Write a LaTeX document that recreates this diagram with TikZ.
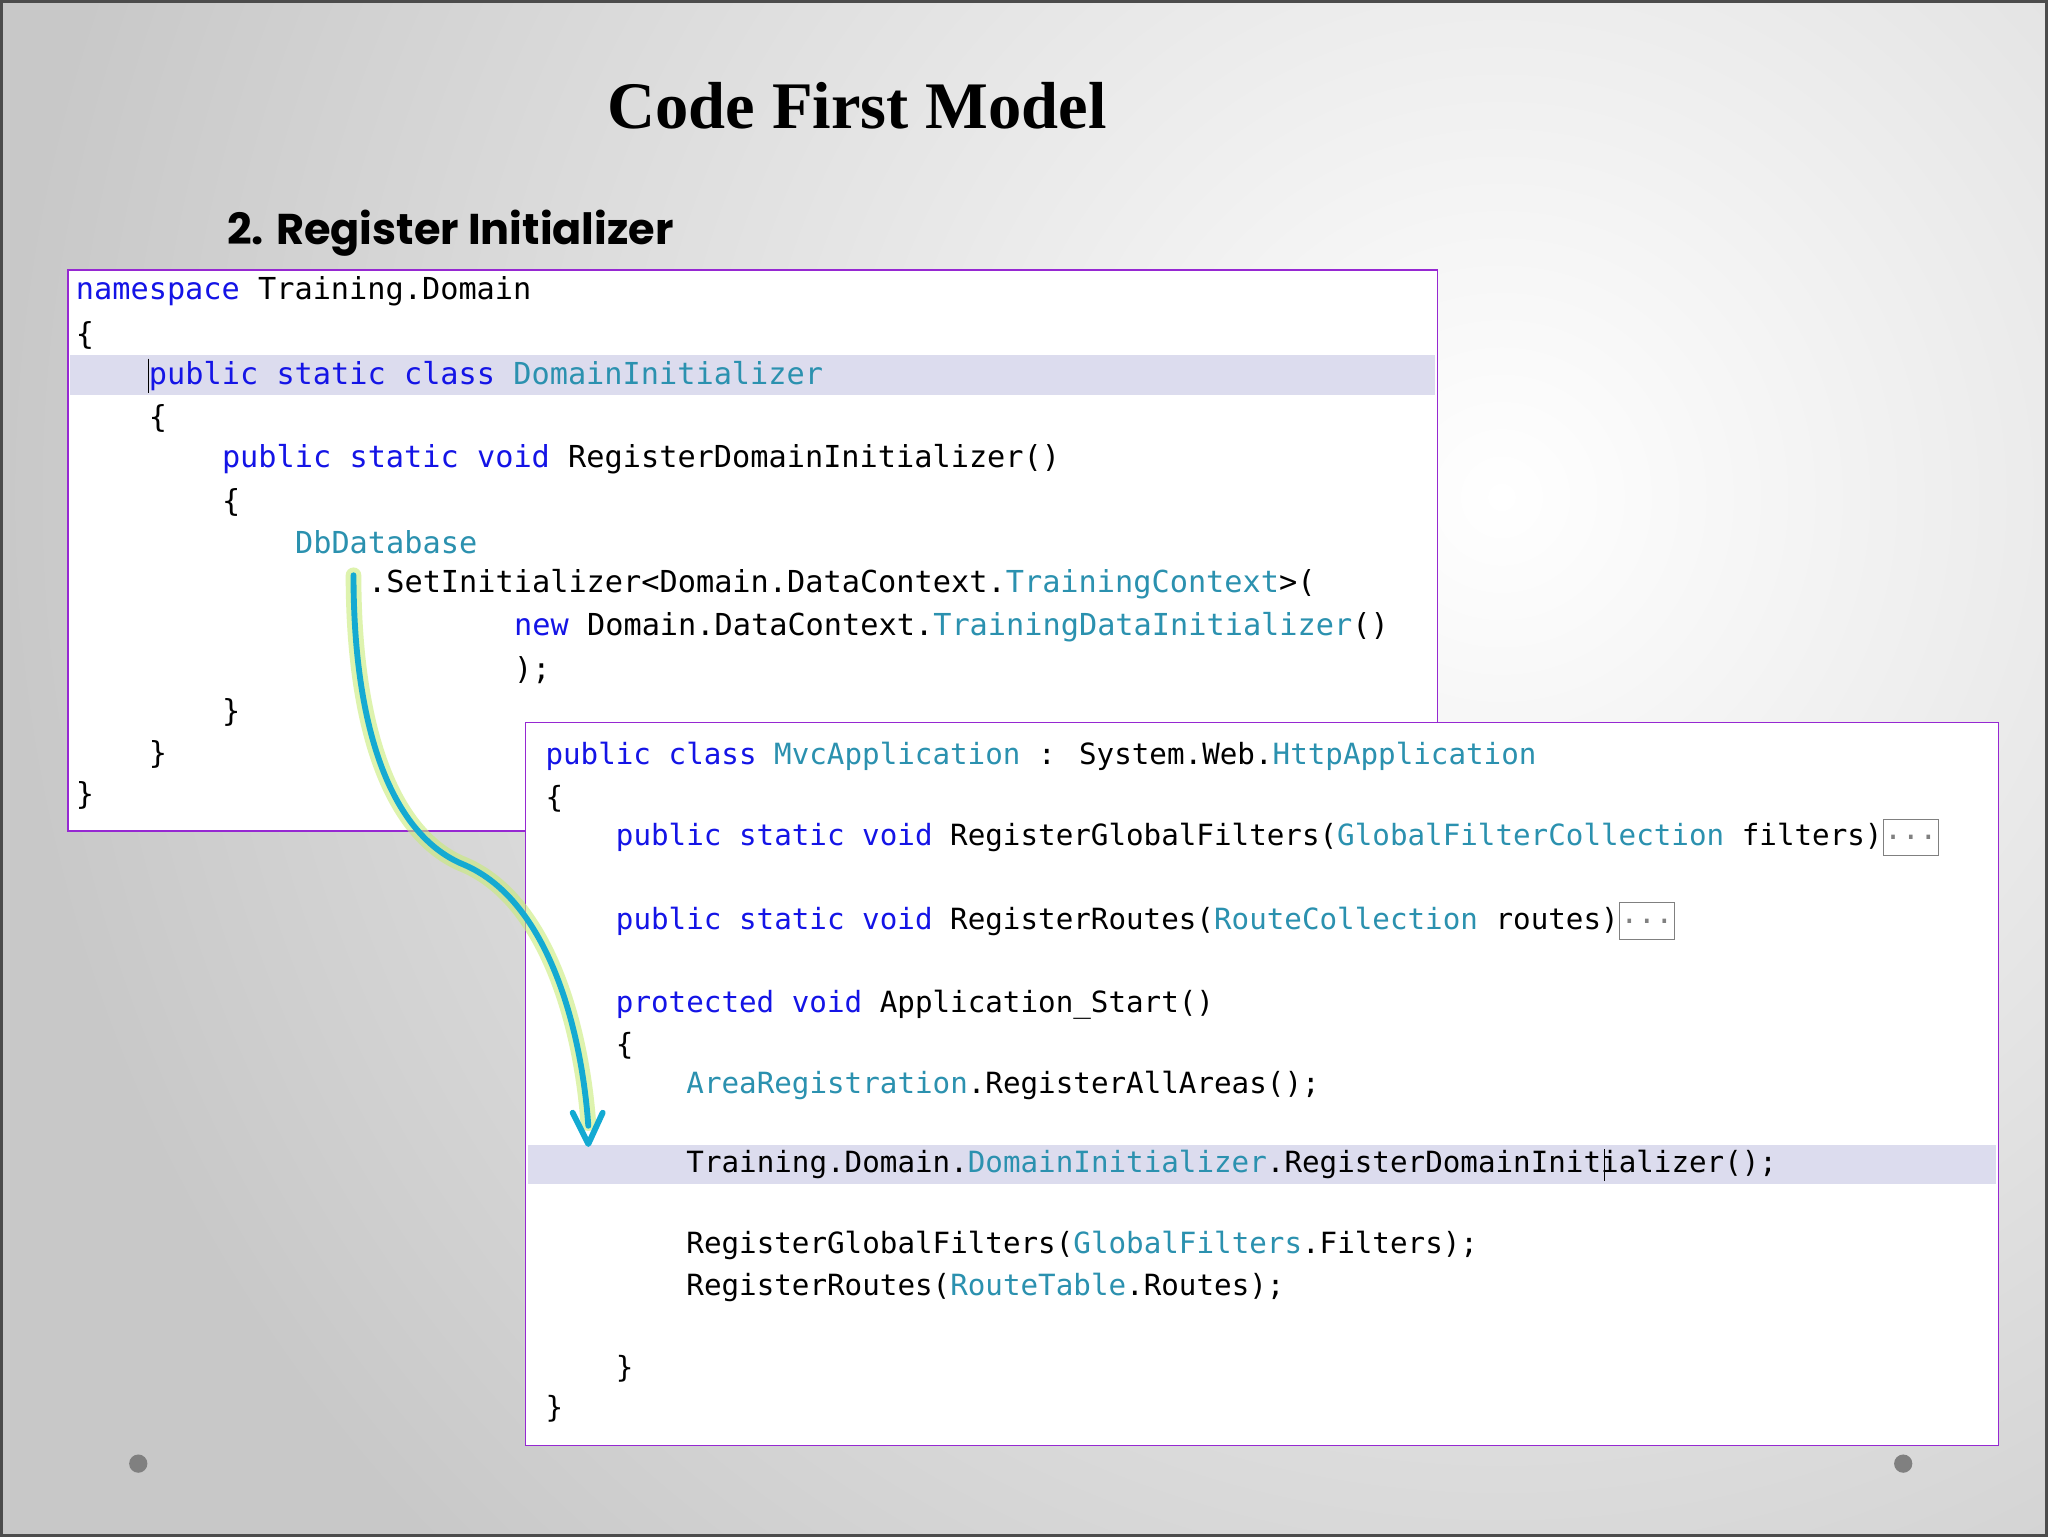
\documentclass[tikz,border=0pt]{standalone}
\usepackage{fontspec}
\newfontfamily\codef{DejaVu Sans Mono}
\newfontfamily\titlef{Liberation Serif}
\newfontfamily\subf{Poppins}
\definecolor{kwc}{RGB}{20,20,230}
\definecolor{tyc}{RGB}{43,145,175}
\definecolor{boxc}{RGB}{150,40,210}
\definecolor{hlc}{RGB}{220,220,238}
\definecolor{bgc}{RGB}{200,200,200}
\definecolor{arc}{RGB}{20,170,210}
\newcommand\kw[1]{\textcolor{kwc}{#1}}
\newcommand\ty[1]{\textcolor{tyc}{#1}}
\tikzset{x=1pt,y=-1pt,
 code/.style={anchor=west,inner sep=0pt,font=\codef\fontsize{23.2}{28}\selectfont,text=black},
 codeb/.style={code,font=\codef\fontsize{22.4}{28}\selectfont},
 panel/.style={draw=boxc,line width=1.2pt,fill=white},
 dots/.style={draw=gray,inner sep=1pt,anchor=west,font=\codef\fontsize{22.4}{28}\selectfont,text=gray,minimum height=28pt}}
\begin{document}
\begin{tikzpicture}
\begin{scope}
\clip (0,0) rectangle (1568,1176);
\fill[bgc] (0,0) rectangle (1568,1176);
\shade[inner color=white,outer color=bgc] (1150,380) circle (1150);
\end{scope}
\draw[line width=2pt,black!70] (0,0) rectangle (1568,1176);
\useasboundingbox (0,0) rectangle (1568,1176);
\node[font=\titlef\bfseries\fontsize{51}{58}\selectfont] (title) at (656,80) {Code First Model};
\node[anchor=west,font=\subf\bfseries\fontsize{33}{38}\selectfont,inner sep=0pt] (sub) at (173,178) {2. Register Initializer};
% panel 1
\draw[panel] (51,206) rectangle (1101,636);
\fill[hlc] (53,271) rectangle (1099,302);
\draw[black,line width=1pt] (113,274) -- (113,300);
\node[code] (a1) at (57,222) {\kw{namespace} Training.Domain};
\node[code] (a2) at (57,256) {\{};
\node[code] (a3) at (113,287) {\kw{public static class} \ty{DomainInitializer}};
\node[code] (a4) at (113,320) {\{};
\node[code] (a5) at (169,351) {\kw{public static void} RegisterDomainInitializer()};
\node[code] (a6) at (169,384) {\{};
\node[code] (a7) at (225,415) {\ty{DbDatabase}};
\node[code] (a8) at (281,447) {.SetInitializer<Domain.DataContext.\ty{TrainingContext}>(};
\node[code] (a9) at (393,480) {\kw{new} Domain.DataContext.\ty{TrainingDataInitializer}()};
\node[code] (a10) at (393,513) {);};
\node[code] (a11) at (169,545) {\}};
\node[code] (a12) at (113,577) {\}};
\node[code] (a13) at (57,609) {\}};
% panel 2
\draw[panel] (402,553) rectangle (1531,1107);
\fill[hlc] (404,877) rectangle (1529,907);
\draw[black,line width=1pt] (1229,880) -- (1229,904);
\node[codeb] (b1) at (417,579) {\kw{public class} \ty{MvcApplication} : System.Web.\ty{HttpApplication}};
\node[codeb] (b2) at (417,611) {\{};
\node[codeb] (b3) at (471,641) {\kw{public static void} RegisterGlobalFilters(\ty{GlobalFilterCollection} filters)};
\node[dots] (d1) at (b3.east) {...};
\node[codeb] (b4) at (471,705) {\kw{public static void} RegisterRoutes(\ty{RouteCollection} routes)};
\node[dots] (d2) at (b4.east) {...};
\node[codeb] (b5) at (471,769) {\kw{protected void} Application\_Start()};
\node[codeb] (b6) at (471,801) {\{};
\node[codeb] (b7) at (525,831) {\ty{AreaRegistration}.RegisterAllAreas();};
\node[codeb] (b8) at (525,892) {Training.Domain.\ty{DomainInitializer}.RegisterDomainInitializer();};
\node[codeb] (b9) at (525,954) {RegisterGlobalFilters(\ty{GlobalFilters}.Filters);};
\node[codeb] (b10) at (525,986) {RegisterRoutes(\ty{RouteTable}.Routes);};
\node[codeb] (b11) at (471,1048) {\}};
\node[codeb] (b12) at (417,1079) {\}};
% arrow
\coordinate (s) at (270,440);
\coordinate (e) at (450,878);
\draw[line width=12pt,color={rgb,255:red,200;green,235;blue,120},opacity=0.6,line cap=round]
 (s) .. controls (270,560) and (300,640) .. (355,662) .. controls (420,690) and (445,790) .. (450,860);
\draw[line width=4.5pt,arc,line cap=round]
 (s) .. controls (270,560) and (300,640) .. (355,662) .. controls (420,690) and (445,790) .. (450,862);
\draw[line width=4.5pt,arc,line cap=round,line join=round] (438,852) -- (450,876) -- (461,852);
% bullets
\fill[gray] (105,1121) circle (7);
\fill[gray] (1458,1121) circle (7);
\end{tikzpicture}
\end{document}
